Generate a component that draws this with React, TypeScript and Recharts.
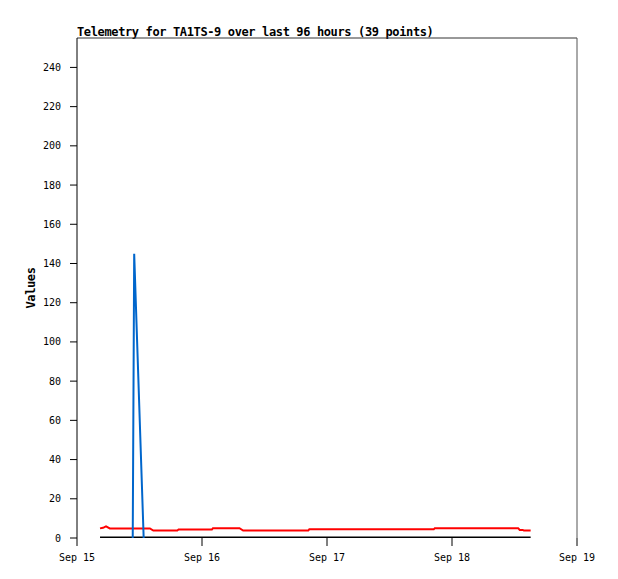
import React from 'react';
import { LineChart, Line, XAxis, YAxis, ReferenceLine } from 'recharts';

// hours since Sep 15 00:00
const xTicks = [0, 24, 48, 72, 96];
const xTickLabels = ['Sep 15', 'Sep 16', 'Sep 17', 'Sep 18', 'Sep 19'];
const yTicks = [0, 20, 40, 60, 80, 100, 120, 140, 160, 180, 200, 220, 240];
const yMax = 255;
const xMax = 96;

const redHours = [4.42, 5.0, 5.57, 6.3, 14.0, 14.65, 19.26, 19.5, 25.9, 26.1, 31.2, 31.9, 44.4, 44.6, 68.5, 68.7, 84.7, 85.0, 85.6, 85.8, 87.1];
const redValues = [4.9, 5.2, 5.9, 4.9, 4.9, 3.8, 3.8, 4.3, 4.3, 5.0, 5.0, 3.8, 3.8, 4.4, 4.4, 5.0, 5.0, 4.1, 4.1, 3.8, 3.8];

const blueHours = [10.7, 10.98, 12.8];
const blueValues = [0, 145, 0];

const blackHours = [4.42, 87.1];
const blackValues = [0, 0];

const toRows = (hours: number[], values: number[]) =>
  hours.map((h, i) => ({ t: h, v: values[i] }));

const redData = toRows(redHours, redValues);
const blueData = toRows(blueHours, blueValues);
const blackData = toRows(blackHours, blackValues);

const mono = '"DejaVu Sans Mono", "Liberation Mono", monospace';

const ValuesLabel = (props: any) => {
  const { viewBox } = props;
  const cy = viewBox.y + viewBox.height / 2;
  return (
    <text
      x={35}
      y={cy}
      transform={`rotate(-90, 35, ${cy})`}
      textAnchor="middle"
      fontFamily={mono}
      fontWeight="bold"
      fontSize={12}
      letterSpacing={-0.4}
      fill="#000"
    >
      Values
    </text>
  );
};

export default function App() {
  return (
    <div style={{ position: 'absolute', left: 0, top: 0, width: 618, height: 579, background: '#fff' }}>
      <div
        style={{
          position: 'absolute',
          left: 77,
          top: 25,
          fontFamily: mono,
          fontWeight: 'bold',
          fontSize: 12,
          letterSpacing: -0.37,
          lineHeight: '14px',
          whiteSpace: 'nowrap',
          color: '#000',
        }}
      >
        Telemetry for TA1TS-9 over last 96 hours (39 points)
      </div>
      <LineChart width={618} height={579} margin={{ top: 38, right: 41, bottom: 11, left: 0 }}>
        <XAxis
          dataKey="t"
          type="number"
          domain={[0, xMax]}
          ticks={xTicks}
          tickFormatter={(v: number) => xTickLabels[xTicks.indexOf(v)]}
          height={30}
          axisLine={false}
          tickLine={{ stroke: '#000' }}
          tickSize={8}
          tickMargin={8}
          tick={{ fontFamily: mono, fontSize: 10, fill: '#000' }}
          interval={0}
          allowDataOverflow
        />
        <YAxis
          dataKey="v"
          type="number"
          domain={[0, yMax]}
          ticks={yTicks}
          width={77}
          axisLine={{ stroke: '#000' }}
          tickLine={{ stroke: '#000' }}
          tickSize={7}
          tickMargin={9}
          tick={{ fontFamily: mono, fontSize: 10, fill: '#000' }}
          interval={0}
          allowDataOverflow
          label={<ValuesLabel />}
        />
        {/* frame: top and right edges */}
        <ReferenceLine y={yMax} stroke="#333" strokeWidth={1} />
        <ReferenceLine x={xMax} stroke="#555" strokeWidth={1} />
        <Line data={blackData} dataKey="v" type="linear" stroke="#000" strokeWidth={3} dot={false} isAnimationActive={false} />
        <Line data={redData} dataKey="v" type="linear" stroke="#ff0000" strokeWidth={2} dot={false} isAnimationActive={false} />
        <Line data={blueData} dataKey="v" type="linear" stroke="#0066cc" strokeWidth={2} dot={false} isAnimationActive={false} />
      </LineChart>
    </div>
  );
}
